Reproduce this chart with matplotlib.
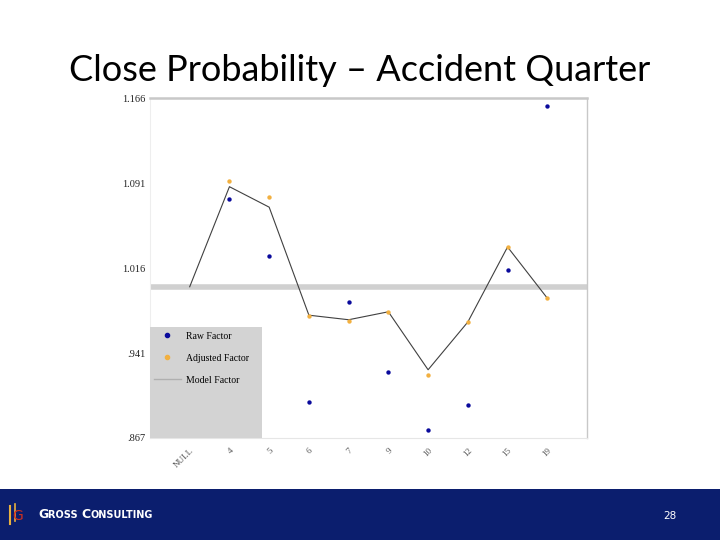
import matplotlib
matplotlib.use('Agg')
import matplotlib.pyplot as plt
from matplotlib.patches import Rectangle
from matplotlib.lines import Line2D

categories = ['NULL', '4', '5', '6', '7', '9', '10', '12', '15', '19']
raw_factor = [None, 1.077, 1.027, 0.899, 0.987, 0.925, 0.874, 0.896, 1.015, 1.159]
adjusted_factor = [None, 1.093, 1.079, 0.974, 0.970, 0.978, 0.922, 0.969, 1.035, 0.990]
model_factor = [1.000, 1.088, 1.070, 0.975, 0.971, 0.978, 0.927, 0.969, 1.035, 0.990]
base_level = 1.0
ytick_vals = [0.867, 0.941, 1.016, 1.091, 1.166]
ytick_labels = ['.867', '.941', '1.016', '1.091', '1.166']

blue = '#0a0a9c'
orange = '#f2b040'
navy = '#0b1e6e'

fig = plt.figure(figsize=(7.2, 5.4), dpi=100)
fig.patch.set_facecolor('white')

# title
fig.text(0.5, 0.850, 'Close Probability \u2013 Accident Quarter', ha='center', va='baseline',
         fontsize=26, family='Lato', color='black')

ax = fig.add_axes([0.2083, 0.1889, 0.607, 0.6296])
x = list(range(len(categories)))

ax.axhline(base_level, color='#d0d0d0', lw=4, zorder=1)
ax.plot(x, model_factor, color='#404040', lw=0.8, zorder=2)
rx = [i for i, v in zip(x, raw_factor) if v is not None]
ry = [v for v in raw_factor if v is not None]
ax.scatter(rx, ry, s=10, color=blue, zorder=3, linewidths=0)
ax_x = [i for i, v in zip(x, adjusted_factor) if v is not None]
ay = [v for v in adjusted_factor if v is not None]
ax.scatter(ax_x, ay, s=10, color=orange, zorder=3, linewidths=0)

ax.set_xlim(-1, len(categories))
ax.set_ylim(0.867, 1.166)
ax.set_yticks(ytick_vals)
ax.set_yticklabels(ytick_labels, family='Liberation Serif', fontsize=7.5, color='#222222')
ax.set_xticks(x)
ax.set_xticklabels(categories, family='Liberation Serif', fontsize=6.5, rotation=45,
                   ha='right', rotation_mode='anchor', color='#555555')
ax.tick_params(axis='y', length=0, pad=3)
ax.tick_params(axis='x', length=0, pad=6)
ax.spines['top'].set_color('#c8c8c8')
ax.spines['top'].set_linewidth(1.8)
ax.spines['right'].set_color('#c8c8c8')
ax.spines['right'].set_linewidth(1)
ax.spines['left'].set_color('#eeeeee')
ax.spines['bottom'].set_color('#e6e6e6')

# legend box
ax.add_patch(Rectangle((0, 0), 0.256, 0.326, transform=ax.transAxes,
                       facecolor='#d3d3d3', edgecolor='none', zorder=4))
handles = [
    Line2D([], [], marker='o', ls='none', color=blue, markersize=3),
    Line2D([], [], marker='o', ls='none', color=orange, markersize=3),
    Line2D([], [], color='#b0b0b0', lw=1),
]
leg = ax.legend(handles, ['Raw Factor', 'Adjusted Factor', 'Model Factor'],
                loc='upper left', bbox_to_anchor=(-0.005, 0.330), frameon=False,
                prop={'family': 'Liberation Serif', 'size': 7}, handlelength=2.8,
                handletextpad=0.5, labelspacing=1.35, borderaxespad=0.2)
leg.set_zorder(5)

# footer band
fig.add_artist(Rectangle((0, 0), 1, 51 / 540, transform=fig.transFigure,
                         facecolor=navy, edgecolor='none'))
fig.add_artist(Line2D([0.0139, 0.0139], [0.030, 0.063], transform=fig.transFigure,
                      color='#e8b040', lw=1.5))
fig.add_artist(Line2D([0.0208, 0.0208], [0.035, 0.066], transform=fig.transFigure,
                      color='#e8b040', lw=1.2))
fig.text(0.0245, 0.045, 'G', color='#d03020', fontsize=10, family='DejaVu Sans',
         ha='center', va='center')

# small caps company name
fig.canvas.draw()
renderer = fig.canvas.get_renderer()
xpos = 38 / 720
for part, size in [('G', 9), ('ROSS ', 7), ('C', 9), ('ONSULTING', 7)]:
    t = fig.text(xpos, 0.040, part, color='white', fontsize=size, family='DejaVu Sans',
                 fontweight='bold', va='baseline', ha='left')
    bb = t.get_window_extent(renderer=renderer)
    xpos += bb.width / 720

fig.text(670 / 720, 0.045, '28', color='white', fontsize=7.5, family='DejaVu Sans',
         ha='center', va='center')

fig.savefig('out.png', dpi=100)
